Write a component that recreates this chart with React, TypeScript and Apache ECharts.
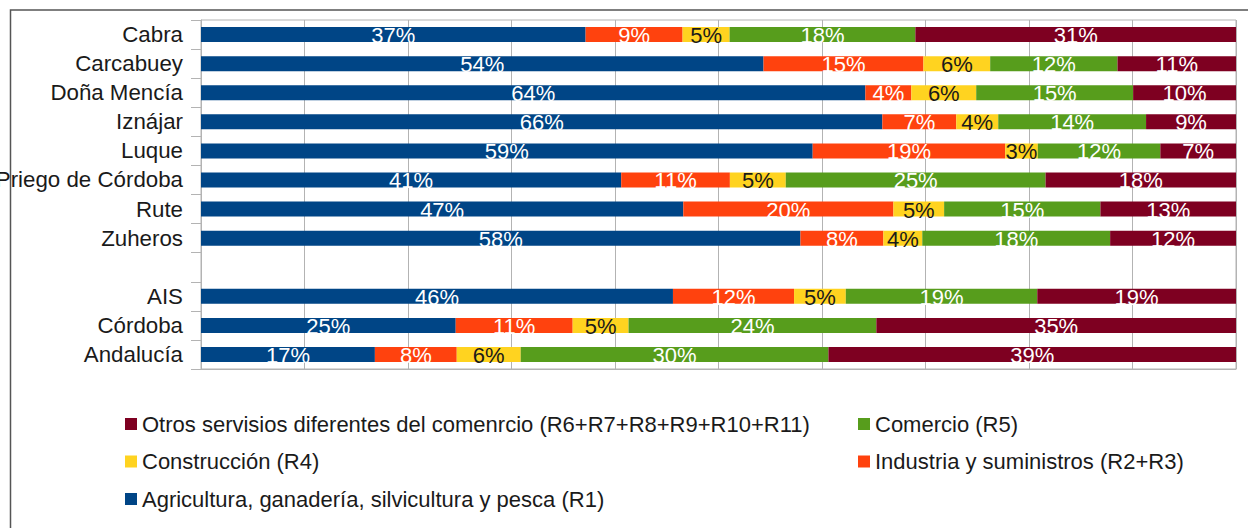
import React, { useEffect, useRef } from "react";
import * as echarts from "echarts";

const categories = [
  "Cabra",
  "Carcabuey",
  "Doña Mencía",
  "Iznájar",
  "Luque",
  "Priego de Córdoba",
  "Rute",
  "Zuheros",
  "",
  "AIS",
  "Córdoba",
  "Andalucía",
];

const agricultura = [37.16, 54.35, 64.19, 65.83, 59.1, 40.6, 46.6, 57.92, null, 45.6, 24.61, 16.8];
const industria = [9.37, 15.45, 4.44, 7.14, 18.6, 10.5, 20.3, 8.01, null, 11.7, 11.3, 7.91];
const construccion = [4.54, 6.45, 6.27, 4.06, 3.15, 5.4, 4.9, 3.76, null, 5.0, 5.4, 6.18];
const comercio = [17.95, 12.3, 15.16, 14.28, 11.84, 25.1, 15.1, 18.15, null, 18.5, 23.94, 29.73];
const otros = [30.98, 11.45, 9.94, 8.69, 7.31, 18.4, 13.1, 12.16, null, 19.2, 34.75, 39.38];

const seriesNames = {
  agr: "Agricultura, ganadería, silvicultura y pesca (R1)",
  ind: "Industria y suministros (R2+R3)",
  con: "Construcción (R4)",
  com: "Comercio (R5)",
  otr: "Otros servisios diferentes del comenrcio (R6+R7+R8+R9+R10+R11)",
};

const colors = {
  agr: "#004586",
  ind: "#ff420e",
  con: "#ffd320",
  com: "#579d1c",
  otr: "#7e0021",
};

const FONT = "'Liberation Sans', Arial, sans-serif";

export default function App() {
  const ref = useRef<HTMLDivElement>(null);

  useEffect(() => {
    if (!ref.current) return;
    const chart = echarts.init(ref.current, undefined, { renderer: "svg" });

    const mk = (name: string, data: (number | null)[], color: string, labelColor: string) => ({
      name,
      type: "bar",
      stack: "total",
      barWidth: 15,
      data,
      itemStyle: { color },
      label: {
        show: true,
        position: "inside",
        offset: [0, 1],
        color: labelColor,
        fontFamily: FONT,
        fontSize: 22,
        textBorderWidth: 0,
        formatter: (p: any) => (p.value == null ? "" : Math.round(p.value) + "%"),
      },
    });

    chart.setOption({
      animation: false,
      textStyle: { fontFamily: FONT },
      graphic: [
        {
          type: "rect",
          shape: { x: 10.5, y: 10, width: 1260, height: 540 },
          style: { fill: "none", stroke: "#555", lineWidth: 1.5 },
          silent: true,
        },
      ],
      legend: [
        {
          orient: "vertical",
          left: 120,
          top: 408,
          itemWidth: 12,
          itemHeight: 12,
          itemGap: 15.5,
          itemTextGap: 8,
          icon: "rect",
          data: [seriesNames.otr, seriesNames.con, seriesNames.agr],
          textStyle: { fontSize: 22, color: "#1a1a1a", fontFamily: FONT, lineHeight: 22 },
        },
        {
          orient: "vertical",
          left: 853,
          top: 408,
          itemWidth: 12,
          itemHeight: 12,
          itemGap: 15.5,
          itemTextGap: 8,
          icon: "rect",
          data: [seriesNames.com, seriesNames.ind],
          textStyle: { fontSize: 22, color: "#1a1a1a", fontFamily: FONT, lineHeight: 22 },
        },
      ],
      grid: {
        left: 201,
        right: 12,
        top: 20,
        bottom: 159,
        show: true,
        borderColor: "#b3b3b3",
        borderWidth: 1,
        containLabel: false,
        outerBoundsMode: "none",
      },
      xAxis: {
        type: "value",
        min: 0,
        max: 100,
        interval: 10,
        axisLabel: { show: false },
        axisTick: { show: false },
        axisLine: { show: true, lineStyle: { color: "#b3b3b3" } },
        splitLine: { show: true, lineStyle: { color: "#b3b3b3", width: 1 } },
      },
      yAxis: {
        type: "category",
        inverse: true,
        data: categories,
        axisLine: { show: true, lineStyle: { color: "#b3b3b3" } },
        axisTick: { show: true, length: 10, lineStyle: { color: "#b3b3b3" } },
        axisLabel: { fontSize: 22.3, color: "#1a1a1a", fontFamily: FONT, margin: 18 },
        splitLine: { show: false },
      },
      series: [
        mk(seriesNames.agr, agricultura, colors.agr, "#ffffff"),
        mk(seriesNames.ind, industria, colors.ind, "#ffffff"),
        mk(seriesNames.con, construccion, colors.con, "#1a1a1a"),
        mk(seriesNames.com, comercio, colors.com, "#ffffff"),
        mk(seriesNames.otr, otros, colors.otr, "#ffffff"),
      ],
    });

    return () => chart.dispose();
  }, []);

  return (
    <div
      ref={ref}
      style={{ position: "fixed", left: 0, top: 0, width: 1248, height: 528, background: "#fff" }}
    />
  );
}
